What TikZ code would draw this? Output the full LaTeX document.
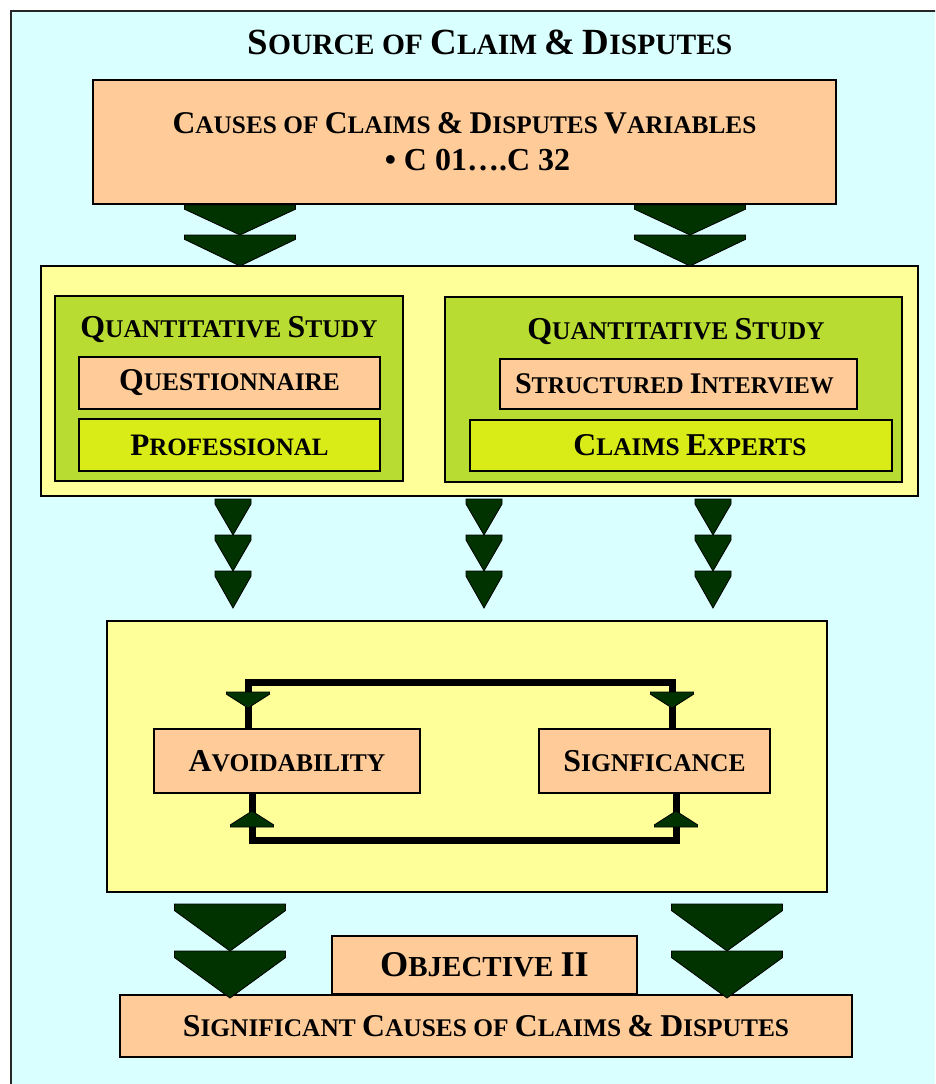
\documentclass[tikz,border=0pt]{standalone}
\usepackage{fontspec}
\setmainfont{Liberation Serif}
\usepackage{graphicx}

% colours
\definecolor{skybg}{RGB}{217,255,255}
\definecolor{peach}{RGB}{255,204,153}
\definecolor{paleyellow}{RGB}{255,255,153}
\definecolor{leafgreen}{RGB}{185,220,51}
\definecolor{limefill}{RGB}{218,236,24}
\definecolor{arrowgreen}{RGB}{0,51,0}

% full-size capital inside a small-caps run
\newcommand\Bg[1]{\scalebox{1.25}{#1}}
% bold text at a given size
\newcommand\fs[1]{\fontsize{#1}{#1}\selectfont\bfseries}
% chevron arrow: centre x, top y, width, height (negative height points up)
\newcommand\chev[4]{%
  \filldraw[chevstyle] ({#1-#3/2},{#2}) -- ({#1+#3/2},{#2}) -- ({#1+#3/2},{#2+0.14*#4})
    -- ({#1},{#2+#4}) -- ({#1-#3/2},{#2+0.14*#4}) -- cycle;}

\tikzset{
  boxed/.style={draw=black, line width=1.3pt, inner sep=0pt, align=center},
  chevstyle/.style={fill=arrowgreen, draw=black, line width=0.8pt, line join=miter},
  loopline/.style={draw=black, line width=7pt, line join=miter},
}

\begin{document}
\begin{tikzpicture}[x=1pt,y=-1pt]
\useasboundingbox (0,0) rectangle (935,1084);
\clip (0,0) rectangle (935,1084);
\fill[white] (0,0) rectangle (935,1084);
% outer frame
\draw[fill=skybg, line width=2pt, draw=black!85] (11,11) rectangle (960,1110);

\node[font=\fs{29.5}] (title) at (490,42) {\Bg{S}OURCE OF \Bg{C}LAIM \Bg{\&} \Bg{D}ISPUTES};

% source variables
\node[boxed, fill=peach, minimum width=743pt, minimum height=124pt] (vars) at (464.5,142)
  {{\fs{25.3}\Bg{C}AUSES OF \Bg{C}LAIMS \Bg{\&} \Bg{D}ISPUTES \Bg{V}ARIABLES}\\[14pt]
   {\fs{32}\hspace*{26pt}• C 01….C 32}};

% study panel
\node[boxed, fill=paleyellow, minimum width=877pt, minimum height=230pt] (panel) at (479.5,381) {};
\node[boxed, fill=leafgreen, minimum width=348pt, minimum height=185pt] (studyL) at (229,388.5) {};
\node[boxed, fill=leafgreen, minimum width=457pt, minimum height=185pt] (studyR) at (673.5,389.5) {};
\node[font=\fs{25.5}] (titleL) at (229,330) {\Bg{Q}UANTITATIVE \Bg{S}TUDY};
\node[font=\fs{25.5}] (titleR) at (676,332) {\Bg{Q}UANTITATIVE \Bg{S}TUDY};
\node[boxed, fill=peach, minimum width=301pt, minimum height=52pt, font=\fs{25.4}] (quest) at (229.5,383)
  {\Bg{Q}UESTIONNAIRE};
\node[boxed, fill=limefill, minimum width=301pt, minimum height=52pt, font=\fs{25}] (prof) at (229.5,445)
  {\Bg{P}ROFESSIONAL};
\node[boxed, fill=peach, minimum width=357pt, minimum height=50pt, font=\fs{24}] (interview) at (678.5,384)
  {\Bg{S}TRUCTURED \Bg{I}NTERVIEW\hspace*{8pt}};
\node[boxed, fill=limefill, minimum width=422pt, minimum height=51pt, font=\fs{25.4}] (experts) at (681,445.5)
  {\hspace*{18pt}\Bg{C}LAIMS \Bg{E}XPERTS};

% ranking panel
\node[boxed, fill=paleyellow, minimum width=720pt, minimum height=271pt] (rank) at (467,756.5) {};
\node[boxed, fill=peach, minimum width=266pt, minimum height=64pt, font=\fs{25.5}] (avoid) at (287,761)
  {\Bg{A}VOIDABILITY};
\node[boxed, fill=peach, minimum width=231pt, minimum height=64pt, font=\fs{25.5}] (sig) at (654.5,761)
  {\Bg{S}IGNFICANCE};

% feedback loop between the two criteria
\draw[loopline] ([xshift=-39pt]avoid.north) -- ++(0,-46) -| ([xshift=17.5pt]sig.north);
\draw[loopline] ([xshift=-35pt]avoid.south) -- ++(0,47) -| ([xshift=21.5pt]sig.south);
\chev{248}{692}{43}{16}
\chev{672}{692}{43}{16}
\chev{252}{827}{43}{-16}
\chev{676}{827}{43}{-16}

% outcome
\node[boxed, fill=peach, minimum width=305pt, minimum height=58pt, font=\fs{29}] (obj) at (484.5,965)
  {\Bg{O}BJECTIVE \Bg{II}};
\node[boxed, fill=peach, minimum width=732pt, minimum height=62pt, font=\fs{25.4}] (result) at (486,1026)
  {\Bg{S}IGNIFICANT \Bg{C}AUSES OF \Bg{C}LAIMS \Bg{\&} \Bg{D}ISPUTES};

% flow arrows
\chev{240}{205}{111}{30}
\chev{240}{235}{111}{31}
\chev{690}{205}{111}{30}
\chev{690}{235}{111}{31}
\foreach \cx in {233,484,713}{
  \chev{\cx}{499}{36}{36}
  \chev{\cx}{535}{36}{36}
  \chev{\cx}{571}{36}{37}
}
\chev{230}{904}{111}{47}
\chev{230}{951}{111}{47}
\chev{727}{904}{111}{47}
\chev{727}{951}{111}{47}
\end{tikzpicture}
\end{document}
